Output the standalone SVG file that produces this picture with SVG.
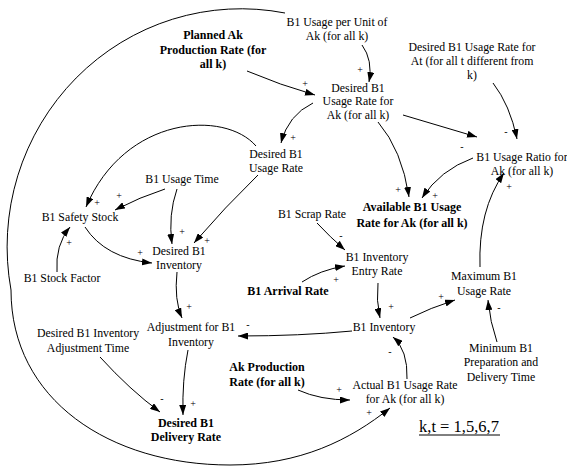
<svg xmlns="http://www.w3.org/2000/svg" width="567" height="467" viewBox="0 0 567 467">
<defs>
<marker id="ah" viewBox="0 0 10 7" refX="10" refY="3.5" markerWidth="10" markerHeight="7" markerUnits="userSpaceOnUse" orient="auto">
<path d="M0,0 L10,3.5 L0,7 z" fill="#000"/>
</marker>
<style>
text{font-family:"Liberation Serif","Times New Roman",serif;fill:#000}
.n{font-size:11.8px;text-anchor:middle}
.b{font-size:12px;font-weight:bold;text-anchor:middle}
.s{font-size:10px;text-anchor:middle}
.c path{fill:none;stroke:#000;stroke-width:1;marker-end:url(#ah)}
</style>
</defs>
<rect width="567" height="467" fill="#fff"/>
<g id="connectors" class="c">
<g><path d="M285,13 A234,238 0 0 0 11,290 C11,400 110,465 230,465 C300,465 350,440 390,408"/><text class="s" x="369" y="416">+</text></g>
<g><path d="M362,45 Q373,60 369,82"/><text class="s" x="360" y="72.5">+</text></g>
<g><path d="M247,71 Q280,85 315,95"/><text class="s" x="305" y="86.5">+</text></g>
<g><path d="M313,103 Q288,115 281,143"/><text class="s" x="293" y="140.5">+</text></g>
<g><path d="M403,115 L477,137"/><text class="s" x="462" y="150">-</text></g>
<g><path d="M493,83 Q510,105 517,139"/><text class="s" x="506" y="135">-</text></g>
<g><path d="M378,122 Q402,150 409,197"/><text class="s" x="398" y="192.5">+</text></g>
<g><path d="M473,158 Q440,170 422,198"/><text class="s" x="435" y="198.5">+</text></g>
<g><path d="M480,267 Q478,210 504,173"/><text class="s" x="509" y="189.5">+</text></g>
<g><path d="M256,146 C225,110 125,115 86,207"/><text class="s" x="97" y="205.5">+</text></g>
<g><path d="M165,189 Q140,197 115,210"/><text class="s" x="119" y="198.5">+</text></g>
<g><path d="M57,272 Q55,245 70,227"/><text class="s" x="69" y="245.5">+</text></g>
<g><path d="M177,189 Q168,215 172,244"/><text class="s" x="182" y="234.5">+</text></g>
<g><path d="M258,175 Q225,207 194,243"/><text class="s" x="207" y="243.5">+</text></g>
<g><path d="M85,227 Q105,258 152,263"/><text class="s" x="140" y="255.5">+</text></g>
<g><path d="M177,272 Q174,300 182,318"/><text class="s" x="189" y="309.5">+</text></g>
<g><path d="M352,331 Q300,336 238,336"/><text class="s" x="248" y="328">-</text></g>
<g><path d="M188,350 Q182,380 183,415"/><text class="s" x="193" y="406.5">+</text></g>
<g><path d="M100,357 Q130,390 160,412"/><text class="s" x="162" y="402">-</text></g>
<g><path d="M317,223 Q330,237 345,250"/><text class="s" x="341" y="239">-</text></g>
<g><path d="M302,282 Q320,270 345,266"/><text class="s" x="336" y="282.5">+</text></g>
<g><path d="M378,283 Q376,300 380,318"/><text class="s" x="391" y="309.5">+</text></g>
<g><path d="M410,318 Q430,308 455,300"/><text class="s" x="441" y="299.5">+</text></g>
<g><path d="M497,342 Q490,322 488,300"/><text class="s" x="499" y="311">-</text></g>
<g><path d="M407,379 Q408,350 393,337"/><text class="s" x="390" y="355">-</text></g>
<g><path d="M298,390 Q320,400 350,400"/><text class="s" x="339" y="392.5">+</text></g>
</g>
<g id="planned-ak-production-rate"><text class="b" x="213" y="39">Planned Ak</text><text class="b" x="213" y="53.5">Production Rate (for</text><text class="b" x="213" y="68">all k)</text></g>
<g id="b1-usage-per-unit"><text class="n" x="337" y="26">B1 Usage per Unit of</text><text class="n" x="337" y="40">Ak (for all k)</text></g>
<g id="desired-b1-usage-rate-ak"><text class="n" x="358" y="91.5">Desired B1</text><text class="n" x="358" y="105">Usage Rate for</text><text class="n" x="358" y="118.5">Ak (for all k)</text></g>
<g id="desired-b1-usage-rate-at"><text class="n" x="472" y="51">Desired B1 Usage Rate for</text><text class="n" x="472" y="65">At (for all t different from</text><text class="n" x="472" y="79">k)</text></g>
<g id="b1-usage-ratio"><text class="n" x="522" y="161">B1 Usage Ratio for</text><text class="n" x="522" y="175">Ak (for all k)</text></g>
<g id="desired-b1-usage-rate"><text class="n" x="276" y="158">Desired B1</text><text class="n" x="276" y="172">Usage Rate</text></g>
<g id="b1-usage-time"><text class="n" x="182" y="183">B1 Usage Time</text></g>
<g id="b1-safety-stock"><text class="n" x="80" y="221">B1 Safety Stock</text></g>
<g id="desired-b1-inventory"><text class="n" x="179" y="255">Desired B1</text><text class="n" x="179" y="269">Inventory</text></g>
<g id="b1-stock-factor"><text class="n" x="62" y="282">B1 Stock Factor</text></g>
<g id="b1-scrap-rate"><text class="n" x="312" y="218">B1 Scrap Rate</text></g>
<g id="available-b1-usage-rate"><text class="b" x="412" y="211">Available B1 Usage</text><text class="b" x="412" y="227">Rate for Ak (for all k)</text></g>
<g id="b1-inventory-entry-rate"><text class="n" x="377" y="261">B1 Inventory</text><text class="n" x="377" y="275">Entry Rate</text></g>
<g id="b1-arrival-rate"><text class="b" x="288" y="295">B1 Arrival Rate</text></g>
<g id="maximum-b1-usage-rate"><text class="n" x="484" y="280">Maximum B1</text><text class="n" x="484" y="295">Usage Rate</text></g>
<g id="b1-inventory"><text class="n" x="384" y="331">B1 Inventory</text></g>
<g id="adjustment-for-b1-inventory"><text class="n" x="191" y="331">Adjustment for B1</text><text class="n" x="191" y="346">Inventory</text></g>
<g id="desired-b1-inventory-adjustment-time"><text class="n" x="88" y="337">Desired B1 Inventory</text><text class="n" x="88" y="352">Adjustment Time</text></g>
<g id="desired-b1-delivery-rate"><text class="b" x="186" y="427">Desired B1</text><text class="b" x="186" y="441">Delivery Rate</text></g>
<g id="ak-production-rate"><text class="b" x="267" y="371">Ak Production</text><text class="b" x="267" y="386">Rate (for all k)</text></g>
<g id="minimum-b1-preparation-time"><text class="n" x="501" y="352">Minimum B1</text><text class="n" x="501" y="366">Preparation and</text><text class="n" x="501" y="381">Delivery Time</text></g>
<g id="actual-b1-usage-rate"><text class="n" x="405" y="389">Actual B1 Usage Rate</text><text class="n" x="405" y="403">for Ak (for all k)</text></g>
<g id="legend"><text x="419" y="432" style="font-size:16.5px">k,t = 1,5,6,7</text><line x1="419" y1="435" x2="500" y2="435" stroke="#000" stroke-width="1"/></g>
</svg>
